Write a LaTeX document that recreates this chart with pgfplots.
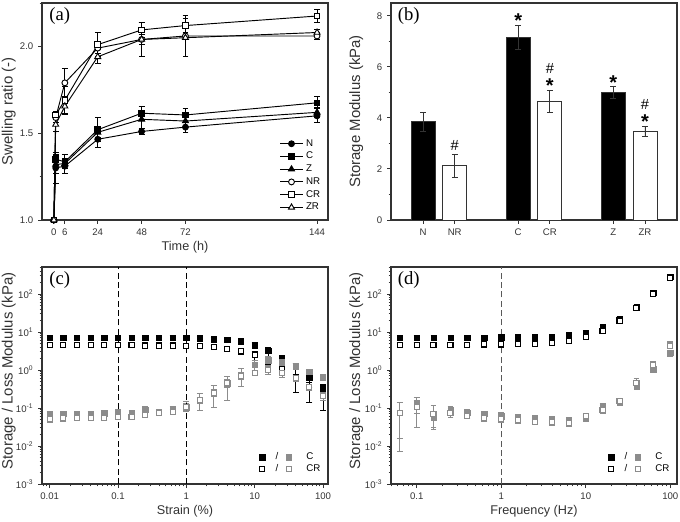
\documentclass[border=0pt]{standalone}
\usepackage{fontspec}
\setmainfont{Liberation Sans}
\newfontfamily\seriffont{Liberation Serif}
\usepackage{pgfplots}
\usepackage{pgfplotstable}
\pgfplotsset{compat=1.18}

% panel (a): x y err
\pgfplotstableread{
x y e
0 1.0 0
1 1.30 .09
6 1.31 .04
24 1.465 .05
48 1.51 .02
72 1.535 .03
144 1.60 .04
}\aN
\pgfplotstableread{
x y e
0 1.0 0
1 1.35 .03
6 1.335 .04
24 1.52 .07
48 1.615 .04
72 1.605 .035
144 1.675 .035
}\aC
\pgfplotstableread{
x y e
0 1.0 0
1 1.32 .05
6 1.325 .03
24 1.505 .03
48 1.58 .05
72 1.57 .04
144 1.62 .03
}\aZ
\pgfplotstableread{
x y e
0 1.0 0
1 1.59 .03
6 1.79 .08
24 1.99 .03
48 2.04 .03
72 2.06 .02
144 2.06 .02
}\aNR
\pgfplotstableread{
x y e
0 1.0 0
1 1.605 .02
6 1.69 .08
24 2.01 .07
48 2.095 .045
72 2.12 .06
144 2.175 .04
}\aCR
\pgfplotstableread{
x y e
0 1.0 0
1 1.55 .04
6 1.655 .04
24 1.94 .04
48 2.04 .10
72 2.05 .11
144 2.08 .02
}\aZR

% panel (b)
\pgfplotstableread{
x y e
0 3.85 .38
3 7.15 .46
6 5.00 .25
}\bFilled
\pgfplotstableread{
x y e
1 2.12 .46
4 4.65 .43
7 3.47 .20
}\bOpen

% panel (c): x y plus minus
\pgfplotstableread{
x y p m
0.01 7.0 .9 .8
0.0158 7.0 .9 .8
0.0251 7.0 .9 .8
0.0398 7.0 .9 .8
0.0631 7.0 .9 .8
0.1 7.0 .9 .8
0.158 7.0 .9 .8
0.251 7.0 .9 .8
0.398 7.0 .9 .8
0.631 7.0 .9 .8
1 7.0 .9 .8
1.58 6.8 .8 .7
2.51 6.5 .8 .7
3.98 6.2 .7 .6
6.31 5.7 .7 .6
10 4.5 .7 .6
15.8 3.2 .6 .9
25.1 2.0 .4 .7
39.8 1.2 .25 .5
63.1 .65 .15 .3
100 .33 .08 .15
}\cGpC
\pgfplotstableread{
x y p m
0.01 4.5 .6 .5
0.0158 4.5 .6 .5
0.0251 4.5 .6 .5
0.0398 4.5 .6 .5
0.0631 4.5 .6 .5
0.1 4.5 .6 .5
0.158 4.5 .6 .5
0.251 4.4 .6 .5
0.398 4.4 .6 .5
0.631 4.4 .6 .5
1 4.3 .6 .5
1.58 4.2 .5 .5
2.51 4.0 .5 .5
3.98 3.6 .5 .5
6.31 3.1 .6 .6
10 2.5 .6 1.0
15.8 1.6 .3 .3
25.1 1.05 .25 .4
39.8 .6 .15 .35
63.1 .35 .12 .21
100 .21 .08 .125
}\cGpCR
\pgfplotstableread{
x y p m
0.01 .065 .015 .012
0.0158 .07 .012 .012
0.0251 .07 .012 .012
0.0398 .07 .012 .012
0.0631 .072 .012 .012
0.1 .075 .015 .015
0.158 .075 .012 .012
0.251 .09 .02 .02
0.398 .08 .012 .012
0.631 .09 .02 .02
1 .105 .03 .02
1.58 .16 .03 .03
2.51 .25 .05 .05
3.98 .45 .1 .1
6.31 .7 .15 .15
10 1.35 .4 .4
15.8 1.8 .5 .5
25.1 1.6 .3 .3
39.8 1.25 .2 .2
63.1 .9 .15 .15
100 .65 .12 .12
}\cGppC
\pgfplotstableread{
x y p m
0.01 .05 .008 .008
0.0158 .053 .008 .008
0.0251 .056 .008 .008
0.0398 .055 .008 .008
0.0631 .056 .008 .008
0.1 .057 .008 .008
0.158 .059 .008 .008
0.251 .065 .01 .01
0.398 .075 .01 .01
0.631 .08 .012 .012
1 .105 .04 .025
1.58 .16 .08 .075
2.51 .25 .13 .145
3.98 .45 .22 .29
6.31 .68 .45 .31
10 .85 .15 .15
15.8 1.0 .25 .25
25.1 .85 .2 .2
39.8 .6 .1 .1
63.1 .35 .06 .06
100 .21 .05 .05
}\cGppCR

% panel (d)
\pgfplotstableread{
x y p m
0.0631 7.0 .9 .8
0.1 7.1 .9 .8
0.158 7.1 .9 .8
0.251 7.1 .9 .8
0.398 7.1 .9 .8
0.631 7.1 .9 .8
1 7.2 .9 .8
1.58 7.2 .9 .8
2.51 7.3 .9 .8
3.98 7.6 1 .9
6.31 8.3 1.1 1
10 9.7 1.3 1.1
15.8 13.3 2 1.7
25.1 22.5 3.3 2.8
39.8 47 7 6
63.1 108 16 14
100 280 40 35
}\dGpC
\pgfplotstableread{
x y p m
0.0631 4.6 .6 .5
0.1 4.6 .6 .5
0.158 4.6 .6 .5
0.251 4.6 .6 .5
0.398 4.65 .6 .5
0.631 4.7 .6 .5
1 4.7 .6 .5
1.58 4.8 .6 .5
2.51 4.9 .6 .5
3.98 5.1 .7 .6
6.31 5.8 .8 .7
10 7.2 1 .9
15.8 10.5 1.5 1.3
25.1 20 3 2.5
39.8 42 6 5
63.1 100 15 12
100 270 40 33
}\dGpCR
\pgfplotstableread{
x y p m
0.0631 .075 .065 .059
0.1 .125 .035 .055
0.158 .055 .02 .028
0.251 .09 .022 .022
0.398 .075 .015 .015
0.631 .07 .012 .012
1 .06 .015 .012
1.58 .055 .012 .012
2.51 .052 .01 .01
3.98 .05 .01 .01
6.31 .047 .01 .01
10 .052 .008 .008
15.8 .115 .015 .015
25.1 .135 .015 .015
39.8 .37 .04 .04
63.1 1.05 .15 .15
100 2.8 .5 .5
}\dGppC
\pgfplotstableread{
x y p m
0.0631 .075 .065 .068
0.1 .105 .085 .074
0.158 .07 .05 .04
0.251 .075 .02 .02
0.398 .063 .01 .01
0.631 .055 .01 .01
1 .05 .01 .008
1.58 .047 .01 .008
2.51 .044 .008 .006
3.98 .042 .01 .008
6.31 .04 .01 .008
10 .06 .008 .008
15.8 .09 .025 .02
25.1 .15 .02 .02
39.8 .46 .13 .08
63.1 1.35 .35 .2
100 4.4 1.3 .8
}\dGppCR

\definecolor{axisgrey}{gray}{0.2}
\definecolor{lossgrey}{gray}{0.55}

\tikzset{
  mstar/.style={font=\bfseries\fontsize{15}{15}\selectfont,inner sep=0pt},
  mhash/.style={font=\fontsize{11}{12}\selectfont,inner sep=0pt},
}
\pgfplotsset{
  panel/.style={
    scale only axis, width=214.5pt, height=162.75pt,
    axis line style={line width=.8pt,axisgrey},
    tick style={line width=.7pt,axisgrey},
    tick align=outside, xtick pos=bottom, ytick pos=left,
    major tick length=3pt, minor tick length=1.8pt,
    tick label style={font=\fontsize{7.2}{8.5}\selectfont,axisgrey},
    xlabel style={font=\fontsize{9.5}{11}\selectfont,axisgrey,at={(axis description cs:0.5,0)},anchor=center,yshift=-20.5pt},
    ylabel style={font=\fontsize{11.2}{12}\selectfont,axisgrey,at={(axis description cs:0,0.5)},anchor=center,yshift=25pt},
    clip=false,
  },
  errs/.style={
    /pgfplots/error bars/y dir=both,
    /pgfplots/error bars/y explicit,
    /pgfplots/error bars/error bar style={line width=.7pt,#1},
    /pgfplots/error bars/error mark options={rotate=90,mark size=2.2pt,line width=.7pt,#1},
  },
  swell/.style={black,line width=.7pt,mark options={solid,line width=.7pt},errs=black},
  mod/.style={only marks,errs=#1},
  gstor/.style={mark=square*,mark size=2pt,mark options={draw=#1,fill=#1}},
  lopen/.style={mark=square*,mark size=1.9pt,mark options={draw=#1,fill=white,line width=.8pt}},
  modlegend/.style={
    legend style={draw=none,fill=none,font=\fontsize{7.3}{8.5}\selectfont,at={(#1,0.158)},anchor=north west,row sep=-2pt,inner sep=0pt,column sep=4pt},
    legend columns=2, transpose legend, legend cell align=left,
    legend image code/.code={\draw[##1] plot coordinates {(0.15cm,0cm)};},
  },
  logminor/.style={
    minor ytick={2e-3,3e-3,4e-3,5e-3,6e-3,7e-3,8e-3,9e-3,2e-2,3e-2,4e-2,5e-2,6e-2,7e-2,8e-2,9e-2,.2,.3,.4,.5,.6,.7,.8,.9,2,3,4,5,6,7,8,9,20,30,40,50,60,70,80,90,200,300,400,500},
    minor xtick={.008,.009,.02,.03,.04,.05,.06,.07,.08,.09,.2,.3,.4,.5,.6,.7,.8,.9,2,3,4,5,6,7,8,9,20,30,40,50,60,70,80,90},
  },
}
\newcommand{\logticks}{10\textsuperscript{-3},10\textsuperscript{-2},10\textsuperscript{-1},10\textsuperscript{0},10\textsuperscript{1},10\textsuperscript{2}}
\newcommand{\panellabel}[1]{\node[font=\seriffont\fontsize{14}{16}\selectfont,text=black] at (axis description cs:0.062,0.942) {#1};}

\begin{document}
\begin{tikzpicture}
\path[use as bounding box] (0,0) rectangle (510pt,390.75pt);

% (a)
\begin{axis}[panel, at={(31.5pt,225.75pt)}, anchor=south west,
  xmin=-6.5, xmax=150, ymin=1, ymax=2.25,
  xtick={0,6,24,48,72,144}, xticklabels={0,6,24,48,72,144},
  ytick={1,1.5,2}, yticklabels={1.0,1.5,2.0},
  minor ytick={1.25,1.75,2.25},
  xlabel={Time (h)}, ylabel={Swelling ratio (-)},
  legend style={draw=none,fill=none,font=\fontsize{7.3}{8.5}\selectfont,at={(0.83,0.385)},anchor=north west,row sep=-1pt,inner sep=0pt},
  legend cell align=left,
]
\addplot[swell,mark=*,mark size=2.2pt,mark options={fill=black}] table[x=x,y=y,y error=e] {\aN};
\addplot[swell,mark=square*,mark size=2.1pt,mark options={fill=black}] table[x=x,y=y,y error=e] {\aC};
\addplot[swell,mark=triangle*,mark size=2.6pt,mark options={fill=black}] table[x=x,y=y,y error=e] {\aZ};
\addplot[swell,mark=*,mark size=2.2pt,mark options={fill=white}] table[x=x,y=y,y error=e] {\aNR};
\addplot[swell,mark=square*,mark size=2.1pt,mark options={fill=white}] table[x=x,y=y,y error=e] {\aCR};
\addplot[swell,mark=triangle*,mark size=2.6pt,mark options={fill=white}] table[x=x,y=y,y error=e] {\aZR};
\legend{N,C,Z,NR,CR,ZR}
\panellabel{(a)}
\end{axis}

% (b)
\begin{axis}[panel, at={(293.25pt,225.75pt)}, anchor=south west,
  xmin=-1.01, xmax=8.01, ymin=0, ymax=8.5,
  xtick={0,1,3,4,6,7}, xticklabels={N,NR,C,CR,Z,ZR},
  ytick={0,2,4,6,8}, yticklabels={0,2,4,6,8},
  minor ytick={1,3,5,7},
  ylabel={Storage Modulus (kPa)},
  ylabel style={yshift=1pt},
  ybar, bar width=18pt, bar shift=0pt,
]
\addplot[draw=axisgrey,fill=black,line width=.7pt,errs=axisgrey] table[x=x,y=y,y error=e] {\bFilled};
\addplot[draw=axisgrey,fill=white,line width=.7pt,errs=axisgrey] table[x=x,y=y,y error=e] {\bOpen};
\panellabel{(b)}
\node[mstar] at (axis cs:3,7.8) {*};
\node[mhash] at (axis cs:4,5.95) {\#};
\node[mstar] at (axis cs:4,5.27) {*};
\node[mstar] at (axis cs:6,5.38) {*};
\node[mhash] at (axis cs:7,4.52) {\#};
\node[mstar] at (axis cs:7,3.87) {*};
\node[mhash] at (axis cs:1,2.93) {\#};
\end{axis}

% (c)
\begin{axis}[panel, at={(31.5pt,27.75pt)}, anchor=south west,
  xmode=log, ymode=log, logminor,
  xmin=0.00773, xmax=118.3, ymin=1e-3, ymax=513,
  xtick={0.01,0.1,1,10,100}, xticklabels={0.01,0.1,1,10,100},
  ytick={1e-3,1e-2,1e-1,1,10,100}, yticklabels/.expand once={\logticks},
  xlabel={Strain (\%)}, ylabel={Storage / Loss Modulus (kPa)},
  ylabel style={xshift=3.4pt},
  modlegend=0.76,
]
\addplot[mod=black,gstor=black] table[x=x,y=y,y error plus=p,y error minus=m] {\cGpC};
\addplot[mod=black,lopen=black] table[x=x,y=y,y error plus=p,y error minus=m] {\cGpCR};
\addplot[mod=lossgrey,gstor=lossgrey] table[x=x,y=y,y error plus=p,y error minus=m] {\cGppC};
\addplot[mod=lossgrey,lopen=lossgrey] table[x=x,y=y,y error plus=p,y error minus=m] {\cGppCR};
\legend{\hspace{2pt}/,\hspace{2pt}/,\hspace{5pt}C,\hspace{5pt}CR}
\addplot[forget plot,black,dash pattern=on 4.5pt off 2.5pt,line width=.7pt] coordinates {(0.1,1e-3) (0.1,513)};
\addplot[forget plot,black,dash pattern=on 4.5pt off 2.5pt,line width=.7pt] coordinates {(1,1e-3) (1,513)};
\panellabel{(c)}
\end{axis}

% (d)
\begin{axis}[panel, at={(293.25pt,27.75pt)}, anchor=south west,
  xmode=log, ymode=log, logminor,
  xmin=0.0497, xmax=120, ymin=1e-3, ymax=513,
  xtick={0.1,1,10,100}, xticklabels={0.1,1,10,100},
  ytick={1e-3,1e-2,1e-1,1,10,100}, yticklabels/.expand once={\logticks},
  xlabel={Frequency (Hz)}, ylabel={Storage / Loss Modulus (kPa)},
  ylabel style={xshift=3.4pt,yshift=1pt},
  modlegend=0.76,
]
\addplot[mod=black,gstor=black] table[x=x,y=y,y error plus=p,y error minus=m] {\dGpC};
\addplot[mod=black,lopen=black] table[x=x,y=y,y error plus=p,y error minus=m] {\dGpCR};
\addplot[mod=lossgrey,gstor=lossgrey] table[x=x,y=y,y error plus=p,y error minus=m] {\dGppC};
\addplot[mod=lossgrey,lopen=lossgrey] table[x=x,y=y,y error plus=p,y error minus=m] {\dGppCR};
\legend{\hspace{2pt}/,\hspace{2pt}/,\hspace{5pt}C,\hspace{5pt}CR}
\addplot[forget plot,black!65,dash pattern=on 4.5pt off 2.5pt,line width=.9pt] coordinates {(1,1e-3) (1,513)};
\panellabel{(d)}
\end{axis}
\end{tikzpicture}
\end{document}
